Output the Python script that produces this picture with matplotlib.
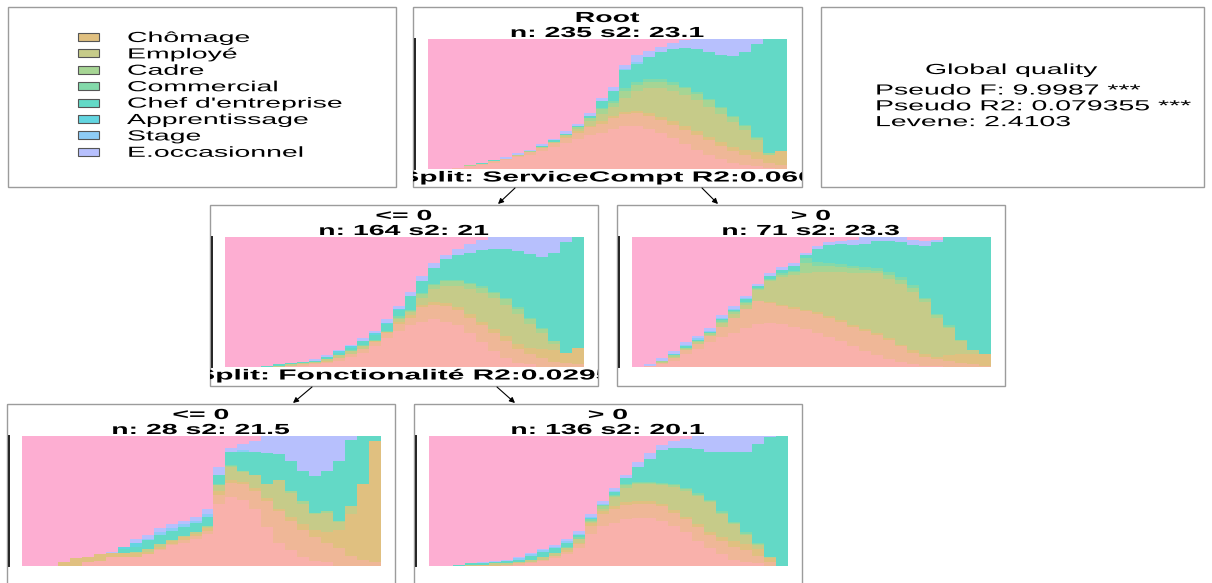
import numpy as np
import matplotlib
matplotlib.use('Agg')
import matplotlib.pyplot as plt
import matplotlib.patheffects as pe
from matplotlib.patches import Rectangle
from matplotlib.transforms import Affine2D

plt.rcParams['font.family'] = ['Liberation Sans', 'DejaVu Sans']

# states, bottom to top of each distribution plot (only 8 are named in the legend)
legend_states = ['Chômage', 'Employé', 'Cadre', 'Commercial', "Chef d'entreprise",
                 'Apprentissage', 'Stage', 'E.occasionnel']
state_colors = ['#F9B1AB', '#EFB797', '#E0C080', '#C6CB89', '#A6D594', '#83D9AA',
                '#63D9C6', '#62D5E0', '#8ECCF6', '#B7C0FD', '#FDAED2']
legend_colors = state_colors[2:10]

# cumulative % per time step, read bottom up:
# [salmon, peach, Chômage, Employé, Cadre, Commercial, Chef, Apprent., Stage, E.occ] (rest = pink)
root_cols = [
    [0, 0, 0, 0, 0, 0, 0, 0, 0, 0], [0, 0, 0, 0, 0, 0, 0, 0, 0, 0],
    [1, 1, 1, 1, 1, 1, 1, 1, 1, 1], [2, 2, 2, 2, 3, 3, 3, 3, 3, 3],
    [3, 4, 4, 4, 4, 4, 5, 5, 5, 5], [5, 6, 6, 6, 6, 6, 7, 7, 7, 7],
    [7, 8, 8, 8, 8, 8, 8, 8, 8, 9], [9, 10, 10, 11, 11, 11, 11, 11, 11, 12],
    [11, 13, 13, 13, 14, 14, 14, 14, 14, 15], [14, 16, 16, 17, 17, 17, 18, 18, 18, 19],
    [17, 20, 20, 21, 21, 21, 22, 22, 22, 23], [20, 24, 25, 26, 26, 26, 27, 27, 27, 29],
    [23, 28, 29, 31, 32, 32, 33, 33, 33, 35], [26, 32, 33, 37, 39, 39, 41, 41, 41, 43],
    [28, 35, 37, 42, 46, 47, 52, 52, 52, 55], [31, 39, 41, 48, 51, 52, 60, 60, 60, 63],
    [33, 42, 44, 55, 60, 62, 76, 76, 77, 80], [33, 43, 45, 60, 65, 67, 81, 81, 82, 88],
    [31, 41, 43, 62, 67, 69, 86, 86, 86, 91], [28, 38, 40, 62, 67, 69, 90, 90, 90, 94],
    [24, 34, 37, 60, 65, 67, 92, 92, 92, 97], [19, 30, 33, 57, 62, 63, 93, 93, 93, 99],
    [15, 26, 29, 53, 58, 59, 92, 92, 92, 100], [11, 22, 25, 48, 53, 54, 90, 90, 90, 100],
    [8, 18, 21, 42, 47, 48, 88, 88, 88, 100], [5, 14, 17, 36, 40, 41, 87, 87, 87, 100],
    [3, 11, 15, 30, 33, 34, 90, 90, 90, 100], [2, 8, 13, 22, 24, 25, 96, 96, 96, 100],
    [1, 5, 11, 11, 12, 12, 100, 100, 100, 100], [0, 3, 14, 14, 14, 14, 100, 100, 100, 100],
]
le_cols = [
    [0, 0, 0, 0, 0, 0, 0, 0, 0, 0], [0, 0, 0, 0, 0, 0, 0, 0, 0, 0],
    [0, 0, 0, 0, 0, 0, 0, 0, 0, 0], [0, 0, 0, 0, 0, 0, 1, 1, 1, 1],
    [0, 0, 0, 1, 1, 1, 2, 2, 2, 2], [1, 1, 1, 2, 2, 2, 3, 3, 3, 3],
    [1, 2, 2, 3, 3, 3, 4, 4, 4, 4], [2, 3, 3, 4, 4, 4, 5, 5, 5, 6],
    [3, 4, 5, 6, 6, 6, 8, 8, 8, 9], [5, 7, 7, 9, 9, 9, 11, 12, 12, 13],
    [8, 10, 10, 12, 12, 13, 15, 16, 16, 17], [11, 14, 14, 16, 16, 17, 20, 20, 20, 22],
    [16, 19, 20, 20, 20, 21, 25, 26, 26, 28], [22, 26, 27, 27, 27, 28, 33, 34, 34, 37],
    [28, 33, 35, 37, 38, 39, 44, 45, 45, 47], [32, 38, 40, 42, 43, 44, 55, 55, 55, 58],
    [35, 46, 48, 53, 56, 57, 66, 66, 66, 70], [37, 48, 50, 60, 63, 64, 76, 76, 76, 80],
    [35, 47, 49, 62, 66, 67, 83, 83, 83, 86], [32, 44, 46, 62, 66, 67, 86, 86, 86, 91],
    [26, 38, 41, 60, 64, 65, 88, 88, 88, 95], [19, 32, 35, 57, 61, 62, 90, 90, 90, 98],
    [12, 26, 29, 53, 57, 58, 91, 91, 91, 100], [7, 20, 24, 48, 52, 53, 91, 91, 91, 100],
    [3, 14, 18, 41, 45, 46, 89, 89, 89, 100], [2, 10, 15, 33, 37, 38, 87, 87, 87, 100],
    [0, 7, 14, 26, 29, 30, 85, 85, 85, 100], [0, 4, 13, 18, 20, 20, 88, 88, 88, 100],
    [0, 3, 11, 11, 11, 11, 96, 96, 96, 100], [0, 2, 15, 15, 15, 15, 100, 100, 100, 100],
]
gt_cols = [
    [0, 0, 0, 0, 0, 0, 0, 0, 0, 0], [1, 1, 1, 1, 1, 1, 1, 1, 1, 2],
    [2, 3, 3, 4, 5, 5, 5, 5, 5, 7], [5, 7, 7, 8, 9, 9, 9, 10, 10, 12],
    [10, 13, 13, 14, 15, 15, 16, 16, 17, 19], [14, 18, 18, 19, 20, 20, 21, 21, 22, 24],
    [19, 24, 24, 25, 26, 26, 27, 27, 28, 30], [23, 31, 31, 34, 35, 36, 37, 37, 38, 40],
    [26, 38, 38, 41, 42, 43, 44, 44, 45, 47], [30, 45, 45, 48, 49, 50, 52, 52, 53, 55],
    [33, 51, 51, 59, 60, 61, 62, 62, 62, 64], [34, 49, 50, 66, 67, 68, 70, 70, 70, 72],
    [33, 47, 48, 69, 71, 72, 75, 75, 75, 77], [31, 45, 46, 71, 73, 74, 78, 78, 78, 80],
    [29, 43, 44, 72, 80, 84, 86, 86, 86, 88], [26, 41, 42, 73, 78, 81, 91, 91, 91, 93],
    [23, 38, 39, 73, 78, 80, 94, 94, 94, 96], [20, 35, 36, 73, 77, 79, 95, 95, 95, 97],
    [16, 31, 32, 72, 76, 78, 94, 94, 94, 98], [12, 28, 29, 72, 75, 77, 95, 95, 95, 100],
    [9, 25, 26, 72, 74, 76, 97, 97, 97, 100], [6, 21, 22, 68, 71, 73, 97, 97, 97, 100],
    [4, 16, 17, 64, 67, 69, 96, 96, 96, 100], [2, 11, 13, 58, 61, 63, 94, 94, 94, 98],
    [1, 8, 10, 50, 52, 53, 93, 93, 93, 97], [1, 6, 8, 38, 40, 41, 96, 96, 96, 98],
    [0, 5, 9, 30, 31, 32, 100, 100, 100, 100], [0, 3, 10, 20, 21, 21, 100, 100, 100, 100],
    [0, 2, 10, 13, 13, 13, 100, 100, 100, 100], [0, 1, 10, 10, 10, 10, 100, 100, 100, 100],
]
le_le_cols = [
    [0, 0, 0, 0, 0, 0, 0, 0, 0, 0], [0, 0, 0, 0, 0, 0, 0, 0, 0, 0],
    [0, 0, 0, 0, 0, 0, 0, 0, 0, 0], [0, 0, 3, 3, 3, 3, 3, 3, 3, 3],
    [0, 0, 6, 6, 6, 6, 6, 6, 6, 6], [3, 3, 7, 7, 7, 7, 7, 7, 7, 7],
    [4, 4, 9, 9, 9, 9, 9, 9, 9, 9], [7, 7, 10, 10, 10, 10, 10, 10, 10, 11],
    [7, 7, 10, 10, 10, 10, 13, 15, 15, 15], [7, 7, 10, 11, 11, 11, 15, 18, 18, 21],
    [9, 9, 11, 13, 13, 13, 20, 20, 21, 24], [12, 13, 15, 17, 17, 17, 24, 24, 26, 29],
    [16, 17, 19, 20, 20, 20, 27, 27, 29, 32], [18, 20, 22, 23, 23, 23, 30, 30, 32, 35],
    [21, 23, 25, 26, 26, 26, 33, 33, 35, 38], [25, 27, 29, 30, 31, 31, 38, 38, 40, 44],
    [48, 55, 58, 62, 62, 63, 70, 70, 70, 76], [53, 64, 66, 76, 77, 78, 88, 88, 88, 91],
    [51, 63, 65, 72, 73, 73, 88, 88, 89, 94], [44, 58, 60, 70, 70, 70, 88, 88, 88, 96],
    [30, 50, 52, 63, 63, 63, 87, 87, 87, 100], [18, 42, 44, 66, 66, 66, 86, 86, 86, 100],
    [12, 35, 38, 56, 58, 58, 81, 81, 81, 100], [7, 28, 32, 48, 50, 50, 73, 73, 73, 100],
    [4, 22, 28, 40, 41, 41, 69, 69, 69, 100], [3, 18, 26, 41, 42, 42, 73, 73, 73, 100],
    [0, 14, 28, 34, 35, 35, 81, 81, 81, 100], [0, 8, 40, 46, 46, 46, 97, 97, 97, 100],
    [0, 5, 63, 63, 63, 63, 100, 100, 100, 100], [0, 3, 96, 96, 96, 96, 100, 100, 100, 100],
]
le_gt_cols = [
    [0, 0, 0, 0, 0, 0, 0, 0, 0, 0], [0, 0, 0, 0, 0, 0, 0, 0, 0, 0],
    [0, 0, 0, 0, 0, 0, 1, 1, 1, 1], [0, 0, 0, 1, 1, 1, 2, 2, 2, 2],
    [0, 0, 1, 1, 1, 1, 2, 2, 2, 3], [0, 0, 1, 2, 2, 2, 3, 3, 3, 4],
    [0, 1, 1, 2, 2, 2, 4, 4, 4, 5], [1, 2, 2, 3, 3, 3, 5, 5, 6, 7],
    [2, 3, 3, 5, 5, 5, 8, 8, 9, 10], [4, 5, 5, 7, 7, 7, 11, 11, 12, 13],
    [6, 8, 8, 10, 10, 10, 14, 14, 15, 16], [9, 11, 12, 14, 14, 15, 18, 18, 19, 21],
    [14, 17, 18, 21, 21, 22, 24, 24, 25, 27], [25, 31, 33, 34, 35, 36, 36, 37, 38, 40],
    [31, 40, 42, 44, 46, 47, 47, 47, 48, 50], [33, 44, 46, 53, 54, 55, 57, 57, 58, 60],
    [36, 47, 49, 60, 62, 63, 68, 68, 68, 70], [37, 48, 50, 63, 64, 65, 76, 76, 76, 80],
    [37, 48, 50, 63, 64, 65, 82, 82, 82, 87], [35, 46, 48, 62, 63, 64, 89, 89, 89, 93],
    [31, 41, 43, 61, 62, 63, 91, 91, 91, 96], [26, 36, 38, 58, 59, 60, 91, 91, 91, 98],
    [19, 30, 32, 54, 55, 56, 90, 90, 90, 100], [14, 24, 26, 49, 50, 51, 88, 88, 88, 100],
    [9, 19, 22, 40, 41, 42, 88, 88, 88, 100], [5, 15, 19, 32, 33, 34, 88, 88, 88, 100],
    [3, 12, 17, 24, 25, 26, 88, 88, 88, 100], [2, 8, 13, 16, 17, 18, 94, 94, 94, 100],
    [0, 3, 6, 7, 7, 7, 99, 99, 99, 100], [0, 0, 0, 0, 0, 0, 100, 100, 100, 100],
]

node_titles = {
    'root': ['Root', 'n: 235 s2: 23.1'],
    'le': ['<= 0', 'n: 164 s2: 21'],
    'gt': ['> 0', 'n: 71 s2: 23.3'],
    'le_le': ['<= 0', 'n: 28 s2: 21.5'],
    'le_gt': ['> 0', 'n: 136 s2: 20.1'],
}
node_data = {'root': root_cols, 'le': le_cols, 'gt': gt_cols,
             'le_le': le_le_cols, 'le_gt': le_gt_cols}
split_labels = {'root': 'Split: ServiceCompt R2:0.060',
                'le': 'Split: Fonctionalité R2:0.0295'}
quality_title = 'Global quality'
quality_lines = ['Pseudo F: 9.9987 ***', 'Pseudo R2: 0.079355 ***', 'Levene: 2.4103']


class Stretch(pe.AbstractPathEffect):
    # widen glyphs horizontally (the source picture is stretched sideways)
    def __init__(self, sx=1.95, anchor='center'):
        super().__init__()
        self.sx = sx
        self.anchor = anchor

    def draw_path(self, renderer, gc, tpath, affine, rgbFace=None):
        if self.anchor == 'center':
            ext = tpath.get_extents()
            cx = (ext.x0 + ext.x1) / 2
        else:
            cx = 0
        t = Affine2D().translate(-cx, 0).scale(self.sx, 1).translate(cx, 0) + affine
        renderer.draw_path(gc, tpath, t, rgbFace)


W, H = 1212, 583
fig = plt.figure(figsize=(W / 100, H / 100), dpi=100)
bg = fig.add_axes([0, 0, 1, 1])
bg.set_xlim(0, W)
bg.set_ylim(H, 0)
bg.axis('off')

FS = 10.5
box_style = dict(fill=False, edgecolor='#9c9c9c', lw=1.0)

boxes = {
    'legend': (8, 7, 396, 187),
    'root': (413, 7, 802, 187),
    'quality': (821, 7, 1204, 187),
    'le': (210, 205, 598, 386),
    'gt': (617, 205, 1005, 386),
    'le_le': (7, 404, 395, 600),
    'le_gt': (414, 404, 802, 600),
}
rects = {}
for k, (x0, y0, x1, y1) in boxes.items():
    r = Rectangle((x0, y0), x1 - x0, y1 - y0, **box_style)
    bg.add_patch(r)
    rects[k] = r

# legend box
for i, (name, col) in enumerate(zip(legend_states, legend_colors)):
    yc = 37 + i * 16.4
    bg.add_patch(Rectangle((78, yc - 4), 21, 8, facecolor=col, edgecolor='#555555', lw=0.8))
    bg.text(127, yc + 5, name, fontsize=FS, ha='left', va='baseline',
            path_effects=[Stretch(anchor='left')])

# global quality box
bg.text(1012, 74, quality_title, fontsize=FS, ha='center', va='baseline',
        path_effects=[Stretch()])
for i, line in enumerate(quality_lines):
    bg.text(875, 94.5 + i * 15.8, line, fontsize=FS, ha='left', va='baseline',
            path_effects=[Stretch(anchor='left')])

# tree nodes
edges = np.arange(31)
for k, cols in node_data.items():
    x0, y0, x1, y1 = boxes[k]
    cx = (x0 + x1) / 2
    bg.text(cx, y0 + 15, node_titles[k][0], fontsize=FS, fontweight='bold',
            ha='center', va='baseline', path_effects=[Stretch()])
    bg.text(cx, y0 + 30, node_titles[k][1], fontsize=FS, fontweight='bold',
            ha='center', va='baseline', path_effects=[Stretch()])
    px0, py0 = x0 + 15, y0 + 32
    bg.plot([x0 + 1.5, x0 + 1.5], [py0, py0 + 130], color='#222222', lw=1.4)
    ax = fig.add_axes([px0 / W, 1 - (py0 + 130) / H, 359 / W, 130 / H])
    cum = np.maximum.accumulate(np.array(cols, dtype=float), axis=1).T
    tops = list(cum) + [np.full(30, 100.0)]
    # draw from the top layer down so each fill covers the ones above it
    for lvl in range(len(tops) - 1, -1, -1):
        ax.stairs(tops[lvl], edges, baseline=0, fill=True,
                  color=state_colors[lvl], lw=0)
    ax.set_xlim(0, 30)
    ax.set_ylim(0, 100)
    ax.axis('off')
    if k in split_labels:
        t = bg.text(cx, y0 + 174.5, split_labels[k], fontsize=FS, fontweight='bold',
                    ha='center', va='baseline', clip_on=True,
                    path_effects=[Stretch(2.05)])
        t.set_clip_path(rects[k])

arrow = dict(arrowstyle='-|>', color='black', lw=0.8, mutation_scale=8,
             shrinkA=0, shrinkB=0)
bg.annotate('', xy=(498, 204), xytext=(515, 188), arrowprops=arrow)
bg.annotate('', xy=(718, 204), xytext=(702, 188), arrowprops=arrow)
bg.annotate('', xy=(293, 403), xytext=(312, 387), arrowprops=arrow)
bg.annotate('', xy=(515, 403), xytext=(497, 387), arrowprops=arrow)

fig.savefig('out.png', dpi=100)
